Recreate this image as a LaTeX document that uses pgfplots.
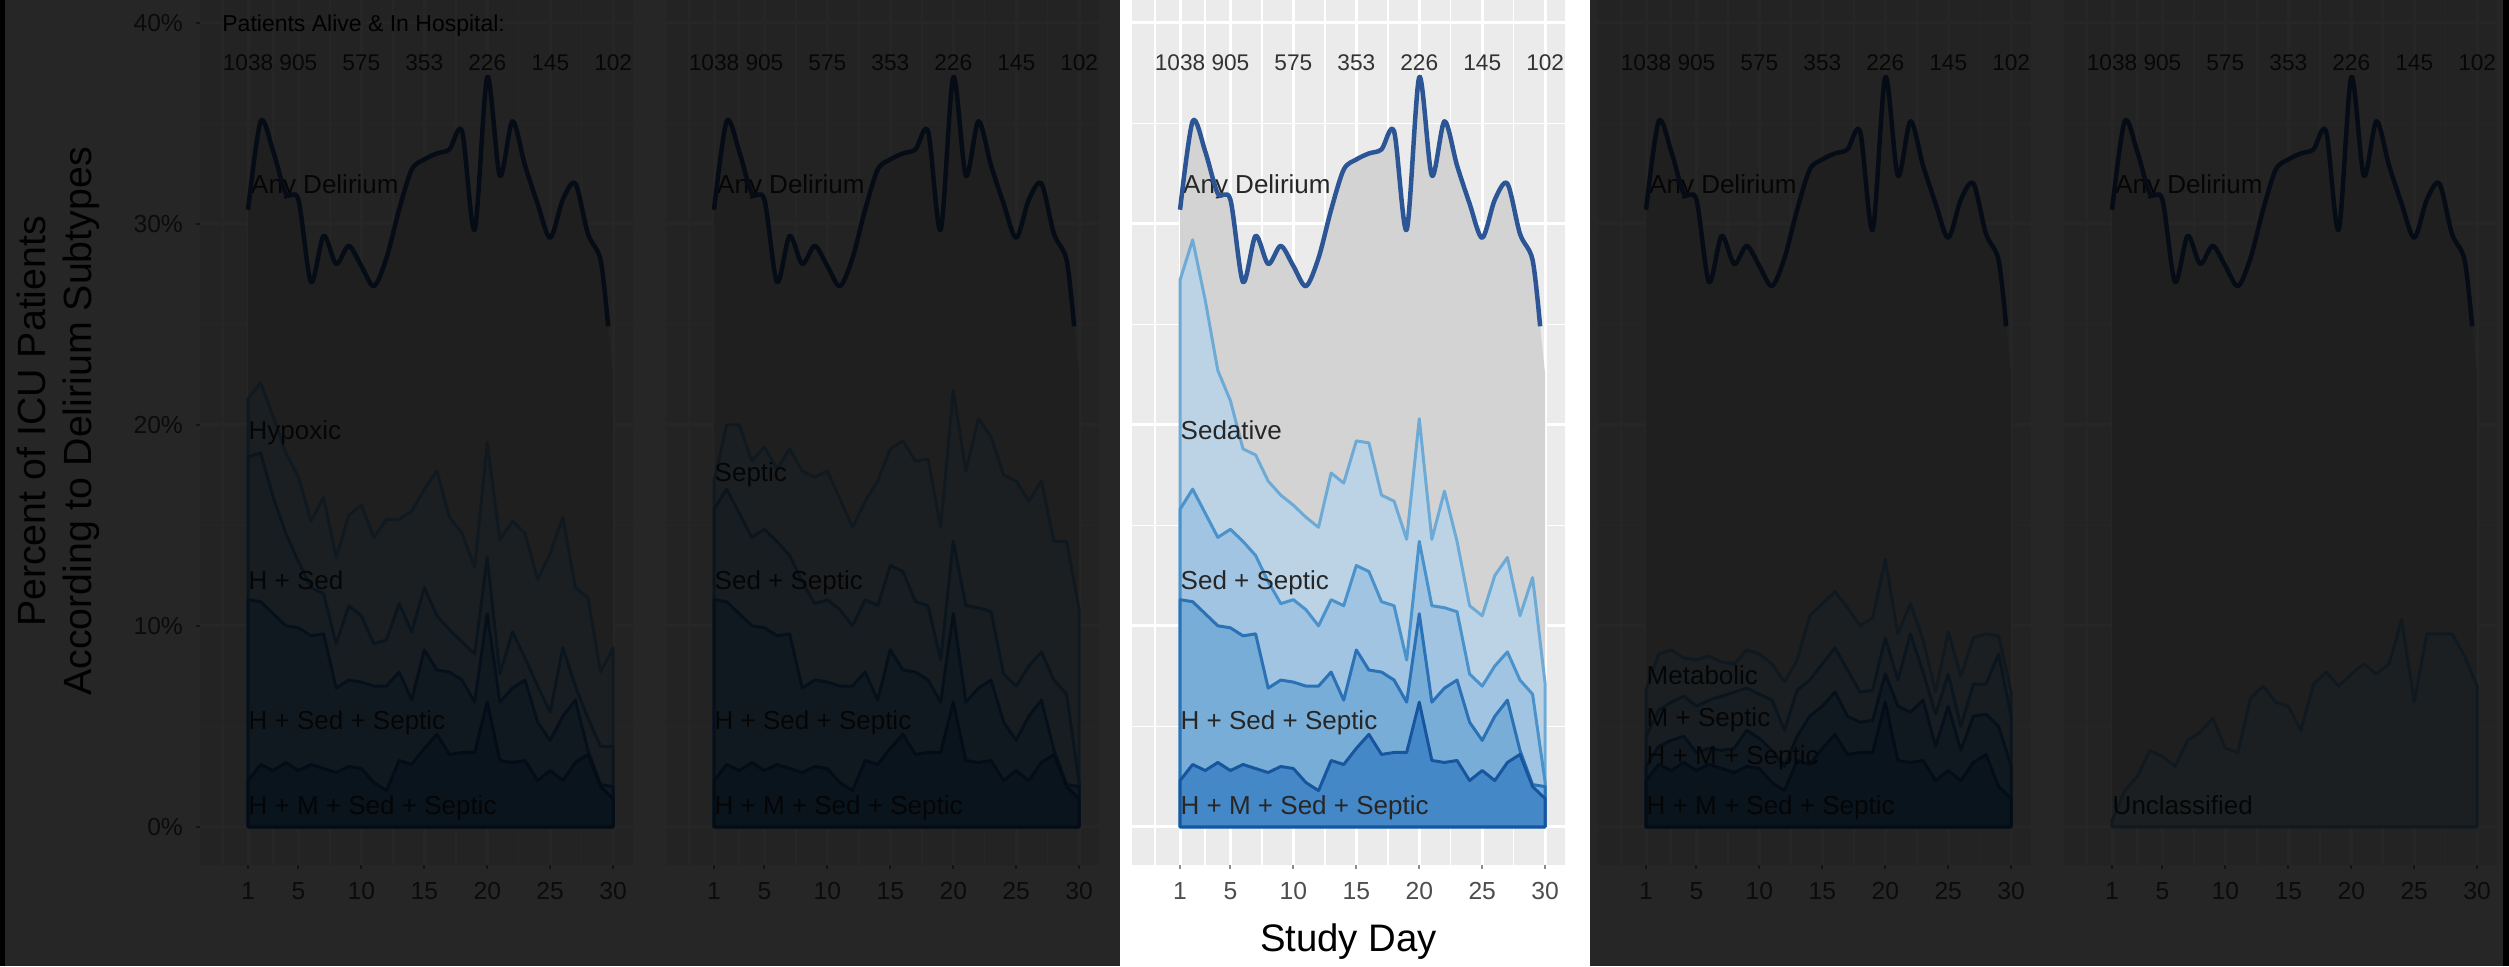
\documentclass[border=0pt]{standalone}
\usepackage{pgfplots}
\pgfplotsset{compat=1.18}
\usepackage{pgfplotstable}
\usepackage{fontspec}
\setmainfont{Liberation Sans}

\definecolor{panelbg}{HTML}{EBEBEB}
\definecolor{anyfill}{HTML}{D3D3D3}
\definecolor{anyline}{HTML}{2C5595}
\definecolor{fA}{HTML}{BBD3E5}\definecolor{lA}{HTML}{6DAAD6}
\definecolor{fB}{HTML}{A0C4E1}\definecolor{lB}{HTML}{4A92CB}
\definecolor{fC}{HTML}{78ADD8}\definecolor{lC}{HTML}{2B71B5}
\definecolor{fD}{HTML}{4588C7}\definecolor{lD}{HTML}{17569E}
\definecolor{gray30}{HTML}{4D4D4D}
\definecolor{numcol}{HTML}{333333}
\definecolor{labcol}{HTML}{262626}
\definecolor{tickcol}{HTML}{8C8C8C}

% day-by-day percentages of each delirium subtype
\pgfplotstableread{
day hyp  hsed sept sedat sedsep hss  hmss metab msep hmsep uncl
1   21.3 18.4 17.2 27.2  15.8   11.3 2.3  6.8   4.5  3.0   0.3
2   22.1 18.6 20.0 29.2  16.8   11.2 3.1  8.6   5.8  4.0   1.8
3   20.4 16.4 20.0 26.2  15.6   10.6 2.8  8.8   6.2  4.3   2.5
4   18.6 14.6 18.2 22.7  14.4   10.0 3.2  8.4   6.5  4.5   3.8
5   17.4 13.2 18.9 21.2  14.8   9.9  2.8  8.3   6.0  3.7   3.5
6   15.2 11.9 17.8 18.8  14.2   9.5  3.1  8.5   6.3  3.9   3.0
7   16.4 11.6 18.8 18.5  13.5   9.6  2.9  8.2   6.5  3.8   4.3
8   13.4 9.1  17.7 17.2  12.2   6.9  2.7  8.1   6.7  3.9   4.7
9   15.5 11.0 17.4 16.5  11.1   7.3  3.0  8.8   6.9  4.8   5.4
10  16.0 10.5 17.7 16.0  11.3   7.2  2.9  8.6   6.6  4.4   3.9
11  14.4 9.1  16.3 15.4  10.8   7.0  2.2  8.1   6.3  3.8   3.7
12  15.3 9.3  14.9 14.9  10.0   7.0  1.8  7.2   4.8  3.0   6.4
13  15.3 11.1 16.2 17.6  11.3   7.7  3.3  8.3   6.8  4.5   7.0
14  15.7 9.7  17.2 17.1  11.0   6.3  3.1  10.5  7.3  5.5   6.2
15  16.8 11.9 18.8 19.2  13.0   8.8  3.9  11.1  8.1  6.0   6.0
16  17.7 10.5 19.2 19.1  12.7   7.8  4.6  11.7  8.9  6.7   4.8
17  15.4 9.8  18.2 16.5  11.2   7.7  3.6  10.9  7.8  5.5   7.1
18  14.6 9.2  18.3 16.2  11.0   7.3  3.7  10.0  6.7  5.2   7.7
19  12.9 8.6  14.9 14.3  8.3    6.2  3.7  10.4  6.8  5.3   7.0
20  19.1 13.4 21.7 20.3  14.2   10.6 6.2  13.3  9.4  7.6   7.6
21  14.3 7.6  17.7 14.3  11.0   6.2  3.3  9.6   7.3  6.0   8.1
22  15.2 9.7  20.3 16.7  10.9   6.9  3.2  11.1  9.6  5.7   7.6
23  14.6 8.4  19.4 14.2  10.7   7.3  3.3  9.3   7.7  6.3   8.1
24  12.3 7.0  17.5 11.0  7.6    5.2  2.3  6.7   5.6  4.0   10.3
25  13.6 5.7  17.2 10.5  7.0    4.3  2.8  9.7   7.6  6.0   6.2
26  15.4 8.9  16.2 12.5  8.0    5.5  2.3  7.5   5.0  3.8   9.6
27  11.9 7.0  17.2 13.4  8.7    6.3  3.2  9.4   7.1  5.5   9.6
28  11.4 5.4  14.2 10.5  7.3    3.8  3.6  9.6   7.1  5.6   9.6
29  7.7  4.0  14.2 12.4  6.6    2.1  2.0  9.5   8.6  5.0   8.5
30  8.9  4.0  10.8 7.1   2.2    2.0  1.4  6.7   5.5  3.0   7.0
}\subtypes

% any delirium
\pgfplotstableread{
x    y
1    30.7
2    35.1
3    33.6
4    31.5
5    31.2
6    27.1
7    29.4
8    28.0
9    28.9
10   27.9
11   26.9
12   28.3
13   30.7
14   32.7
15   33.2
16   33.5
17   33.7
18   34.6
19   29.7
20   37.3
21   32.4
22   35.1
23   32.9
24   31.0
25   29.3
26   31.2
27   32.0
28   29.5
29   28.2
29.6 24.9
}\anydel

\tikzset{
  lab/.style={anchor=base west, inner sep=0pt, font=\fontsize{7.8}{9}\selectfont, text=labcol},
  num/.style={anchor=base, inner sep=0pt, font=\fontsize{6.8}{7.8}\selectfont, text=numcol},
}

\pgfplotsset{
  panel/.style={
    scale only axis, width=130.08pt, height=270.75pt,
    xmin=-2.84, xmax=31.6, ymin=-1.9, ymax=43,
    anchor=south west,
    axis background/.style={fill=panelbg},
    axis line style={draw=none},
    xtick={1,5,10,15,20,25,30}, xticklabels={1,5,10,15,20,25,30},
    ytick={0,10,20,30,40},
    minor xtick={-1,3,7.5,12.5,17.5,22.5,27.5}, minor ytick={5,15,25,35},
    grid=both,
    major grid style={white, line width=0.9pt},
    minor grid style={white, line width=0.45pt},
    minor tick length=0pt, major tick length=1.2pt, tick align=outside,
    xtick pos=bottom, ytick pos=left,
    tick style={tickcol, line width=0.6pt},
    tick label style={font=\fontsize{7.4}{8.5}\selectfont, text=gray30},
    xticklabel style={anchor=north, yshift=-0.4pt},
    yticklabel style={anchor=east, xshift=-0.3pt},
  },
  inner/.style={yticklabels={}, ytick style={draw=none}},
  layA/.style={fill=fA, draw=lA, line width=0.9pt, line join=round},
  layB/.style={fill=fB, draw=lB, line width=0.9pt, line join=round},
  layC/.style={fill=fC, draw=lC, line width=0.9pt, line join=round},
  layD/.style={fill=fD, draw=lD, line width=0.9pt, line join=round},
}

\newcommand\anyarea{%
  \addplot[fill=anyfill, draw=none, smooth] table[x=x,y=y]{\anydel} \closedcycle;
  \addplot[fill=anyfill, draw=none] coordinates {(29.6,24.9) (30,22.5)} \closedcycle;
}
\newcommand\anycurve{%
  \addplot[anyline, line width=1.35pt, smooth, line join=round] table[x=x,y=y]{\anydel};
}
\newcommand\topnums{%
  \node[num] at (axis cs:1,37.63) {1038};
  \node[num] at (axis cs:5,37.63) {905};
  \node[num] at (axis cs:10,37.63) {575};
  \node[num] at (axis cs:15,37.63) {353};
  \node[num] at (axis cs:20,37.63) {226};
  \node[num] at (axis cs:25,37.63) {145};
  \node[num] at (axis cs:30,37.63) {102};
  \node[lab] at (axis cs:1.2,31.5) {Any Delirium};
}

\begin{document}
\begin{tikzpicture}
\fill[white] (0,0) rectangle (752.7pt,289.8pt);

% Panel 1: Hypoxic
\begin{axis}[panel, at={(59.91pt,30.3pt)},
  yticklabels={0\%,10\%,20\%,30\%,40\%},
  ylabel={Percent of ICU Patients\\According to Delirium Subtypes},
  ylabel style={at={(axis description cs:-0.3257,0.4915)}, anchor=center, align=center,
    font=\fontsize{11.8}{13.6}\selectfont, text=black},
]
\anyarea
\addplot[layA] table[x=day,y=hyp]{\subtypes} \closedcycle;
\addplot[layB] table[x=day,y=hsed]{\subtypes} \closedcycle;
\addplot[layC] table[x=day,y=hss]{\subtypes} \closedcycle;
\addplot[layD] table[x=day,y=hmss]{\subtypes} \closedcycle;
\topnums
\node[lab] at (axis cs:1,19.25) {Hypoxic};
\node[lab] at (axis cs:1,11.8) {H + Sed};
\node[lab] at (axis cs:1,4.83) {H + Sed + Septic};
\node[lab] at (axis cs:1,0.6) {H + M + Sed + Septic};
\node[anchor=base west, inner sep=0pt, font=\fontsize{6.9}{8}\selectfont, text=black] at (axis cs:-1.09,39.57) {Patients Alive \& In Hospital:};
\anycurve
\end{axis}

% Panel 2: Septic
\begin{axis}[panel, inner, at={(199.71pt,30.3pt)}]
\anyarea
\addplot[layA] table[x=day,y=sept]{\subtypes} \closedcycle;
\addplot[layB] table[x=day,y=sedsep]{\subtypes} \closedcycle;
\addplot[layC] table[x=day,y=hss]{\subtypes} \closedcycle;
\addplot[layD] table[x=day,y=hmss]{\subtypes} \closedcycle;
\topnums
\node[lab] at (axis cs:1,17.2) {Septic};
\node[lab] at (axis cs:1,11.8) {Sed + Septic};
\node[lab] at (axis cs:1,4.83) {H + Sed + Septic};
\node[lab] at (axis cs:1,0.6) {H + M + Sed + Septic};
\anycurve
\end{axis}

% Panel 3: Sedative (highlighted)
\begin{axis}[panel, inner, at={(339.51pt,30.3pt)},
  xlabel={Study Day},
  xlabel style={at={(axis description cs:0.5,-0.0958)}, anchor=base,
    font=\fontsize{11.5}{13}\selectfont, text=black},
]
\anyarea
\addplot[layA] table[x=day,y=sedat]{\subtypes} \closedcycle;
\addplot[layB] table[x=day,y=sedsep]{\subtypes} \closedcycle;
\addplot[layC] table[x=day,y=hss]{\subtypes} \closedcycle;
\addplot[layD] table[x=day,y=hmss]{\subtypes} \closedcycle;
\topnums
\node[lab] at (axis cs:1,19.25) {Sedative};
\node[lab] at (axis cs:1,11.8) {Sed + Septic};
\node[lab] at (axis cs:1,4.83) {H + Sed + Septic};
\node[lab] at (axis cs:1,0.6) {H + M + Sed + Septic};
\anycurve
\end{axis}

% Panel 4: Metabolic
\begin{axis}[panel, inner, at={(479.31pt,30.3pt)}]
\anyarea
\addplot[layA] table[x=day,y=metab]{\subtypes} \closedcycle;
\addplot[layB] table[x=day,y=msep]{\subtypes} \closedcycle;
\addplot[layC] table[x=day,y=hmsep]{\subtypes} \closedcycle;
\addplot[layD] table[x=day,y=hmss]{\subtypes} \closedcycle;
\topnums
\node[lab] at (axis cs:1,7.1) {Metabolic};
\node[lab] at (axis cs:1,5.0) {M + Septic};
\node[lab] at (axis cs:1,3.08) {H + M + Septic};
\node[lab] at (axis cs:1,0.6) {H + M + Sed + Septic};
\anycurve
\end{axis}

% Panel 5: Unclassified
\begin{axis}[panel, inner, at={(619.11pt,30.3pt)}]
\anyarea
\addplot[layA] table[x=day,y=uncl]{\subtypes} \closedcycle;
\topnums
\node[lab] at (axis cs:1,0.6) {Unclassified};
\anycurve
\end{axis}

% dimming of the non-highlighted panels
\fill[black, opacity=0.85] (0,0) rectangle (336pt,289.8pt);
\fill[black, opacity=0.85] (477pt,0) rectangle (752.7pt,289.8pt);
\fill[black] (0,0) rectangle (1.5pt,289.8pt);
\fill[black] (750.9pt,0) rectangle (752.7pt,289.8pt);

\pgfresetboundingbox
\useasboundingbox (0,0) rectangle (752.7pt,289.8pt);
\end{tikzpicture}
\end{document}
